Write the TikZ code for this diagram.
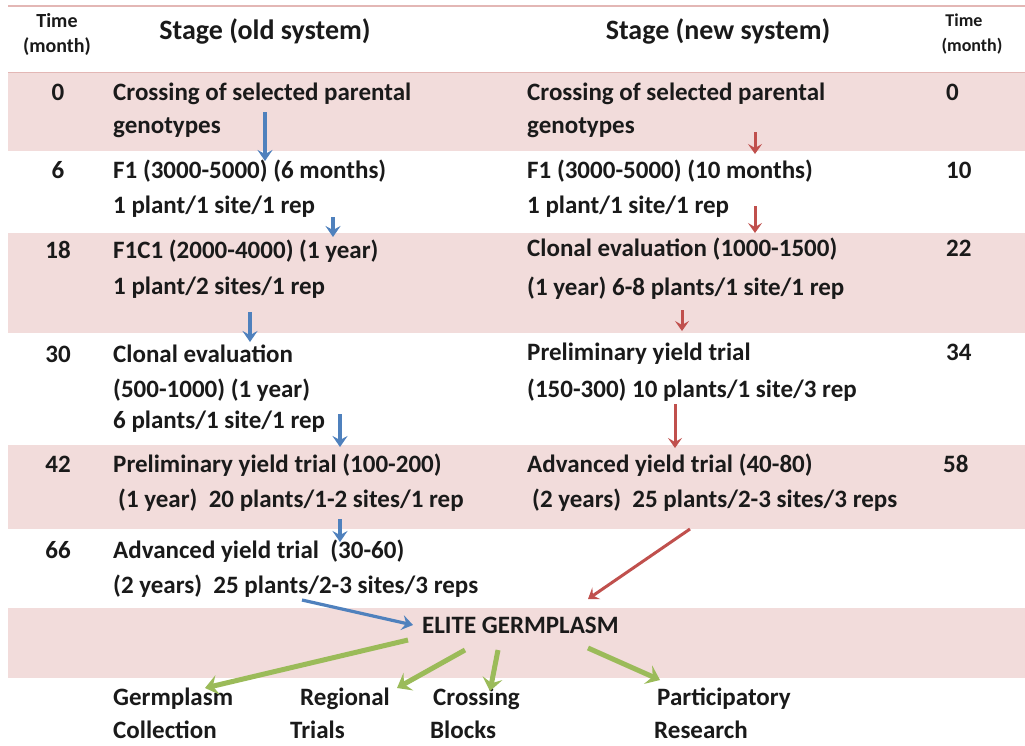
\documentclass[tikz,border=0pt]{standalone}
\usepackage{fontspec}
\setmainfont{Carlito}
\usetikzlibrary{arrows.meta}
\definecolor{band}{HTML}{F2DCDB}
\definecolor{bandline}{HTML}{E3B7B5}
\definecolor{ablue}{HTML}{4F81BD}
\definecolor{ared}{HTML}{C0504D}
\definecolor{agreen}{HTML}{9BBB59}
\definecolor{ink}{HTML}{1A1A1A}
\begin{document}
\begin{tikzpicture}[x=1pt,y=-1pt,
  txt/.style={anchor=base west,inner sep=0pt,text=ink,font=\fontsize{25}{30}\bfseries\selectfont},
  tnum/.style={anchor=base,inner sep=0pt,text=ink,font=\fontsize{25}{30}\bfseries\selectfont},
  rnum/.style={anchor=base west,inner sep=0pt,text=ink,font=\fontsize{25}{30}\bfseries\selectfont},
  hdr/.style={anchor=base,inner sep=0pt,text=ink,font=\fontsize{28}{32}\bfseries\selectfont},
  hsmall/.style={anchor=base,inner sep=0pt,text=ink,font=\fontsize{20}{22}\bfseries\selectfont},
  hsmallr/.style={anchor=base,inner sep=0pt,text=ink,font=\fontsize{18}{20}\bfseries\selectfont},
  barrow/.style={draw=ablue,line width=3.2pt,-{Stealth[length=11pt,width=15pt,inset=4pt]}},
  rarrow/.style={draw=ared,line width=3pt,-{Stealth[length=10pt,width=14pt,inset=4pt]}},
  garrow/.style={draw=agreen,line width=5pt,-{Stealth[length=13pt,width=20pt,inset=5pt]}},
  bandbox/.style={fill=band,draw=none}]
\useasboundingbox (0,0) rectangle (1025,745);
\fill[white] (0,0) rectangle (1025,745);
% bands
\fill[bandbox] (8,73) rectangle (1025,151);
\fill[bandbox] (8,233) rectangle (1025,333);
\fill[bandbox] (8,445) rectangle (1025,529);
\fill[bandbox] (8,608) rectangle (1025,678);
\draw[bandline,line width=1.2pt] (8,6) -- (1025,6);
\draw[bandline,line width=1.2pt] (8,72.5) -- (1025,72.5);
% header
\node[hsmall] (hl1) at (57,27) {Time};
\node[hsmall] (hl2) at (57,52) {(month)};
\node[hdr] (ho) at (265,39) {Stage (old system)};
\node[hdr] (hn) at (718,39) {Stage (new system)};
\node[hsmallr] (hr1) at (964,26) {Time};
\node[hsmallr] (hr2) at (972,51) {(month)};
% left times
\node[tnum] (t0) at (58,100) {0};
\node[tnum] (t6) at (58,178) {6};
\node[tnum] (t18) at (58,258) {18};
\node[tnum] (t30) at (58,362) {30};
\node[tnum] (t42) at (58,472) {42};
\node[tnum] (t66) at (58,558) {66};
% left stages
\node[txt] (o0a) at (113,100) {Crossing of selected parental};
\node[txt] (o0b) at (113,133) {genotypes};
\node[txt] (o6a) at (113,178) {F1 (3000-5000) (6 months)};
\node[txt] (o6b) at (113,213) {1 plant/1 site/1 rep};
\node[txt] (o18a) at (113,258) {F1C1 (2000-4000) (1 year)};
\node[txt] (o18b) at (113,294) {1 plant/2 sites/1 rep};
\node[txt] (o30a) at (113,362) {Clonal evaluation};
\node[txt] (o30b) at (113,397) {(500-1000) (1 year)};
\node[txt] (o30c) at (113,428) {6 plants/1 site/1 rep};
\node[txt] (o42a) at (113,472) {Preliminary yield trial (100-200)};
\node[txt] (o42b) at (118,507) {(1 year)\ \ 20 plants/1-2 sites/1 rep};
\node[txt] (o66a) at (113,558) {Advanced yield trial\ \ (30-60)};
\node[txt] (o66b) at (113,593) {(2 years)\ \ 25 plants/2-3 sites/3 reps};
% right stages
\node[txt] (n0a) at (527,100) {Crossing of selected parental};
\node[txt] (n0b) at (527,133) {genotypes};
\node[txt] (n10a) at (527,178) {F1 (3000-5000) (10 months)};
\node[txt] (n10b) at (527,213) {1 plant/1 site/1 rep};
\node[txt] (n22a) at (527,256) {Clonal evaluation (1000-1500)};
\node[txt] (n22b) at (527,295) {(1 year) 6-8 plants/1 site/1 rep};
\node[txt] (n34a) at (527,360) {Preliminary yield trial};
\node[txt] (n34b) at (527,397) {(150-300) 10 plants/1 site/3 rep};
\node[txt] (n58a) at (527,472) {Advanced yield trial (40-80)};
\node[txt] (n58b) at (532,507) {(2 years)\ \ 25 plants/2-3 sites/3 reps};
% right times
\node[rnum] (r0) at (946,100) {0};
\node[rnum] (r10) at (946,178) {10};
\node[rnum] (r22) at (946,256) {22};
\node[rnum] (r34) at (946,360) {34};
\node[rnum] (r58) at (943,472) {58};
% elite and outcomes
\node[txt] (elite) at (422,633) {ELITE GERMPLASM};
\node[txt] (u1a) at (113,705) {Germplasm};
\node[txt] (u1b) at (113,738) {Collection};
\node[txt] (u2a) at (300,705) {Regional};
\node[txt] (u2b) at (290,738) {Trials};
\node[txt] (u3a) at (433,705) {Crossing};
\node[txt] (u3b) at (430,738) {Blocks};
\node[txt] (u4a) at (657,705) {Participatory};
\node[txt] (u4b) at (654,738) {Research};
% arrow end points
\coordinate (b1s) at (265,112); \coordinate (b1e) at (265,161);
\coordinate (b2s) at (333,217); \coordinate (b2e) at (333,237);
\coordinate (b3s) at (250,312); \coordinate (b3e) at (250,342);
\coordinate (b4s) at (340,414); \coordinate (b4e) at (340,447);
\coordinate (b5s) at (340,519); \coordinate (b5e) at (340,542);
\coordinate (b6s) at (302,600); \coordinate (b6e) at (413,625);
\coordinate (r1s) at (755,132); \coordinate (r1e) at (755,154);
\coordinate (r2s) at (755,206); \coordinate (r2e) at (755,233);
\coordinate (r3s) at (682,310); \coordinate (r3e) at (682,331);
\coordinate (r4s) at (675,404); \coordinate (r4e) at (675,448);
\coordinate (r5s) at (690,529); \coordinate (r5e) at (588,599);
\coordinate (g1s) at (408,640); \coordinate (g1e) at (205,688);
\coordinate (g2s) at (465,650); \coordinate (g2e) at (397,688);
\coordinate (g3s) at (498,650); \coordinate (g3e) at (490,691);
\coordinate (g4s) at (588,648); \coordinate (g4e) at (660,680);
% arrows
\draw[barrow] (b1s) -- (b1e);
\draw[barrow] (b2s) -- (b2e);
\draw[barrow] (b3s) -- (b3e);
\draw[barrow] (b4s) -- (b4e);
\draw[barrow] (b5s) -- (b5e);
\draw[barrow] (b6s) -- (b6e);
\draw[rarrow] (r1s) -- (r1e);
\draw[rarrow] (r2s) -- (r2e);
\draw[rarrow] (r3s) -- (r3e);
\draw[rarrow] (r4s) -- (r4e);
\draw[rarrow] (r5s) -- (r5e);
\draw[garrow] (g1s) -- (g1e);
\draw[garrow] (g2s) -- (g2e);
\draw[garrow] (g3s) -- (g3e);
\draw[garrow] (g4s) -- (g4e);
\end{tikzpicture}
\end{document}
